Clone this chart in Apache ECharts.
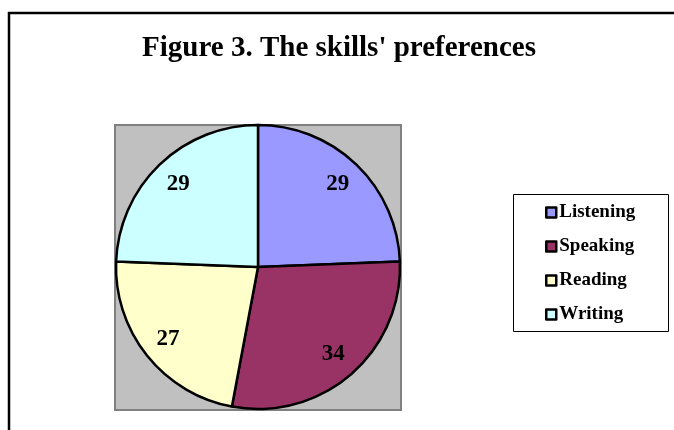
<!DOCTYPE html>
<html>
<head>
<meta charset="utf-8">
<script src="https://cdn.jsdelivr.net/npm/echarts@6/dist/echarts.min.js"></script>
<style>html,body{margin:0;padding:0;background:#fff}#c{width:674px;height:430px}</style>
</head>
<body>
<div id="c"></div>
<script>
var titleText = "Figure 3. The skills' preferences";
var categories = ['Listening', 'Speaking', 'Reading', 'Writing'];
var values = [29, 34, 27, 29];
var colors = ['#9999FF', '#993366', '#FFFFCC', '#CCFFFF'];

var serif = '"Liberation Serif", "Times New Roman", serif';
var data = categories.map(function (c, i) {
  return { name: c, value: values[i], itemStyle: { color: colors[i] } };
});
var labelData = categories.map(function (c, i) {
  return { name: c, value: values[i] };
});

var chart = echarts.init(document.getElementById('c'), null, { renderer: 'canvas' });
chart.setOption({
  animation: false,
  backgroundColor: '#fff',
  title: {
    text: titleText,
    left: 334, top: 29, textAlign: 'center',
    textStyle: { fontFamily: serif, fontWeight: 'bold', fontSize: 29, color: '#000' }
  },
  graphic: [
    { type: 'rect', z: -10, shape: { x: 9, y: 13, width: 720, height: 500 },
      style: { fill: 'none', stroke: '#000', lineWidth: 2.5 } },
    { type: 'rect', z: -5, shape: { x: 115, y: 125, width: 286, height: 285 },
      style: { fill: '#C0C0C0', stroke: '#808080', lineWidth: 2 } },
    { type: 'rect', z: -5, shape: { x: 513.5, y: 194.5, width: 155, height: 137 },
      style: { fill: '#fff', stroke: '#000', lineWidth: 1 } }
  ],
  legend: {
    orient: 'vertical',
    left: 545, top: 203,
    data: categories,
    icon: 'rect',
    itemWidth: 10, itemHeight: 10,
    itemGap: 15,
    padding: 0,
    selectedMode: false,
    itemStyle: { borderColor: '#000', borderWidth: 2.5 },
    textStyle: { fontFamily: serif, fontWeight: 'bold', fontSize: 19, lineHeight: 19, color: '#000', padding: [0, 0, 0, -2] }
  },
  series: [
    {
      type: 'pie',
      center: [258, 267],
      radius: [0, 142],
      startAngle: 90,
      clockwise: true,
      avoidLabelOverlap: false,
      silent: true,
      data: data,
      label: { show: false },
      labelLine: { show: false },
      itemStyle: { borderColor: '#000', borderWidth: 2.5 }
    },
    {
      type: 'pie',
      center: [258, 267],
      radius: [82, 142],
      startAngle: 90,
      clockwise: true,
      avoidLabelOverlap: false,
      silent: true,
      legendHoverLink: false,
      data: labelData,
      itemStyle: { color: 'rgba(0,0,0,0)', borderWidth: 0 },
      label: {
        show: true, position: 'inside', formatter: '{c}',
        fontFamily: serif, fontWeight: 'bold', fontSize: 23, color: '#000'
      },
      labelLine: { show: false }
    }
  ]
});
</script>
</body>
</html>
